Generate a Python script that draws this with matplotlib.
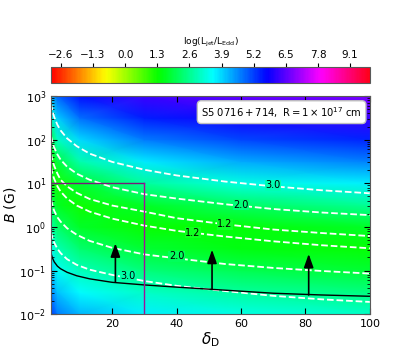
import matplotlib
matplotlib.use("Agg")
import matplotlib.pyplot as plt
import numpy as np
from matplotlib.colors import Normalize

# background field log(Ljet/LEdd) at grid nodes
grid_delta = [1, 3, 10, 30, 60, 100]
grid_logB = [-2.0, -1.5, -1.0, -0.5, 0.0, 0.5, 1.0, 1.5, 2.0, 2.5, 3.0]
grid_val = [
    # delta = 1, 3, 10, 30, 60, 100
    [5.24, 4.70, 4.16, 3.66, 3.32, 3.08],   # logB = -2.0
    [4.64, 4.10, 3.56, 3.06, 2.71, 2.45],   # -1.5
    [4.04, 3.50, 2.96, 2.42, 2.07, 1.83],   # -1.0
    [3.44, 2.90, 2.32, 1.81, 1.52, 1.34],   # -0.5
    [2.84, 2.25, 1.71, 1.32, 1.41, 1.69],   # 0.0
    [2.19, 1.65, 1.25, 1.72, 2.23, 2.67],   # 0.5
    [1.61, 1.20, 1.83, 2.71, 3.30, 3.70],   # 1.0
    [1.27, 1.90, 2.89, 3.74, 4.27, 4.63],   # 1.5
    [2.01, 3.00, 3.90, 4.67, 5.14, 5.46],   # 2.0
    [3.10, 4.00, 4.81, 5.49, 5.91, 6.19],   # 2.5
    [4.09, 4.90, 5.62, 6.24, 6.58, 6.82],   # 3.0
]
cbar_ticks = [-2.6, -1.3, 0.0, 1.3, 2.6, 3.9, 5.2, 6.5, 7.8, 9.1]
cbar_labels = ["\u22122.6", "\u22121.3", "0.0", "1.3", "2.6", "3.9", "5.2", "6.5", "7.8", "9.1"]

# dashed contour lines (log10 B along delta)
line_delta = [1, 1.5, 2, 3, 4, 6, 9, 13, 20, 30, 40, 55, 70, 85, 100]
up30 = [2.83, 2.65, 2.52, 2.34, 2.21, 2.03, 1.85, 1.68, 1.49, 1.31, 1.18, 1.04, 0.93, 0.84, 0.77]
up20 = [2.09, 1.93, 1.82, 1.66, 1.54, 1.38, 1.22, 1.08, 0.91, 0.75, 0.65, 0.52, 0.41, 0.33, 0.27]
up12 = [1.68, 1.51, 1.40, 1.22, 1.08, 0.93, 0.78, 0.64, 0.49, 0.35, 0.20, 0.06, -0.06, -0.14, -0.21]
lo12 = [1.37, 1.21, 1.10, 0.93, 0.81, 0.65, 0.49, 0.35, 0.19, 0.03, -0.09, -0.22, -0.33, -0.42, -0.49]
lo20 = [0.63, 0.48, 0.37, 0.22, 0.12, -0.03, -0.18, -0.32, -0.48, -0.63, -0.72, -0.85, -0.94, -1.01, -1.07]
lo30 = [-0.12, -0.26, -0.36, -0.50, -0.60, -0.74, -0.87, -0.98, -1.10, -1.24, -1.35, -1.47, -1.58, -1.66, -1.72]
# solid lower limit curve
limit = [-0.60, -0.72, -0.80, -0.90, -0.96, -1.04, -1.12, -1.19, -1.27, -1.33, -1.38, -1.45, -1.52, -1.56, -1.59]

# contour labels: text, delta, B
clab_text = ["3.0", "2.0", "1.2", "1.2", "2.0", "3.0"]
clab_delta = [70, 60, 55, 45, 40, 25]
clab_B = [9.0, 3.2, 1.15, 0.74, 0.21, 0.074]
clab_bg = ["#00ffb4", "#00ff78", "#10ff28", "#10ff20", "#00ff5a", "#00ffa8"]

# lower-limit arrows
arrow_delta = [21, 51, 81]
arrow_lo = [0.055, 0.037, 0.0275]
arrow_hi = [0.42, 0.30, 0.24]

fig = plt.figure(figsize=(4.11, 3.53), dpi=100)
ax = fig.add_axes([0.124, 0.110, 0.776, 0.618])

norm = Normalize(vmin=-3.0, vmax=9.9)
X, Y = np.meshgrid(grid_delta, 10.0 ** np.array(grid_logB))
mesh = ax.pcolormesh(X, Y, np.array(grid_val), cmap="hsv", norm=norm,
                     shading="gouraud", rasterized=True)

for ys in [up30, up20, up12, lo12, lo20, lo30]:
    ax.plot(line_delta, 10.0 ** np.array(ys), color="white", ls="--", lw=1.3)
ax.plot(line_delta, 10.0 ** np.array(limit), color="black", lw=1.0)

for t, d, b, c in zip(clab_text, clab_delta, clab_B, clab_bg):
    ax.text(d, b, t, fontsize=7, ha="center", va="center", color="black",
            bbox=dict(boxstyle="square,pad=0.05", fc=c, ec="none"))

for d, lo, hi in zip(arrow_delta, arrow_lo, arrow_hi):
    ax.annotate("", xy=(d, hi), xytext=(d, lo),
                arrowprops=dict(arrowstyle="-|>,head_length=0.45,head_width=0.16",
                                mutation_scale=18, color="black", lw=1.2,
                                shrinkA=0, shrinkB=0))

ax.plot([1, 30], [10, 10], color="#7a1a7a", lw=1.0)
ax.plot([30, 30], [0.01, 10], color="#a0109a", lw=1.0)

ax.set_yscale("log")
ax.set_xlim(1, 100)
ax.set_ylim(1e-2, 1e3)
ax.set_xticks([20, 40, 60, 80, 100])
ax.tick_params(which="both", direction="in", top=True, right=True, labelsize=8)
ax.tick_params(which="major", length=4)
ax.tick_params(which="minor", length=2)
for s in ax.spines.values():
    s.set_color("0.35")
ax.set_xlabel(r"$\delta_{\rm D}$", fontsize=11, labelpad=1)
ax.set_ylabel(r"$B$ (G)", fontsize=10, labelpad=1)

ax.text(0.975, 0.96, r"$\rm S5\ 0716+714,\ R=1\times10^{17}\ cm$", transform=ax.transAxes,
        fontsize=7.2, ha="right", va="top",
        bbox=dict(boxstyle="round,pad=0.4", fc="white", ec="0.75"))

cax = fig.add_axes([0.124, 0.765, 0.776, 0.046])
cb = fig.colorbar(mesh, cax=cax, orientation="horizontal", ticks=cbar_ticks)
cb.set_ticklabels(cbar_labels)
cax.xaxis.set_ticks_position("top")
cax.xaxis.set_label_position("top")
cax.tick_params(labelsize=7.5, length=3, pad=2)
cb.set_label(r"log(L$_{\rm jet}$/L$_{\rm Edd}$)", fontsize=6.5, labelpad=4)
cb.outline.set_edgecolor("0.35")

fig.savefig("out.png", dpi=100)
